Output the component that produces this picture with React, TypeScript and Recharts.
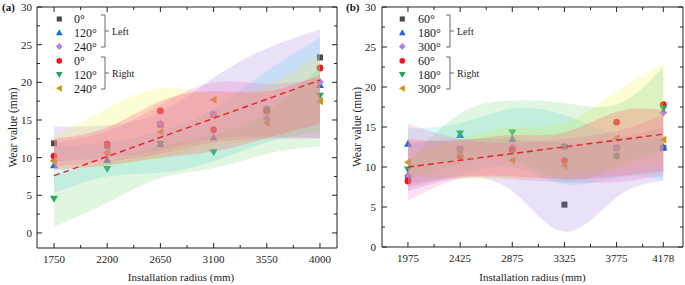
import React from 'react';
import { ComposedChart, XAxis, YAxis, Scatter, Area, Line } from 'recharts';

// ---------- Panel (a) data ----------
const radiusA = [1750, 2200, 2650, 3100, 3550, 4000];
const aLeft0 = [11.9, 11.6, 14.4, 15.7, 16.3, 23.3];
const aLeft120 = [9.0, 9.7, 11.8, 12.7, 16.5, 19.65];
const aLeft240 = [9.6, 10.6, 14.5, 15.8, 15.2, 20.05];
const aRight0 = [10.2, 11.8, 16.2, 13.7, 16.2, 21.9];
const aRight120 = [4.55, 8.5, 11.8, 10.7, 16.4, 18.2];
const aRight240 = [9.6, 10.7, 13.4, 17.7, 14.6, 17.5];
const aFit = [7.6, 20.3];
const aLavHi = [14.1, 14.3, 16, 20.6, 24.5, 27];
const aLavLo = [9.5, 10, 11, 12.5, 12.8, 12.6];
const aCyanHi = [11.5, 12, 13.5, 16.5, 21.5, 25.9];
const aCyanLo = [5.3, 7.5, 8, 9.5, 12, 13.5];
const aYelHi = [12.8, 16.5, 19.2, 18.5, 19.5, 23.8];
const aYelLo = [8.5, 9, 10, 11.5, 12.5, 13.5];
const aGrnHi = [7.8, 9.5, 11.5, 13, 16, 22];
const aGrnLo = [0.8, 4, 7.3, 8.6, 10.5, 11.5];
const aMagHi = [12, 13.5, 17, 20, 19.8, 20.5];
const aMagLo = [8.8, 9.5, 10.5, 12, 12.5, 12.5];
const aSalHi = [12.5, 14, 17.5, 18.8, 18.8, 21];
const aSalLo = [8.4, 9, 10, 10.8, 12.6, 14.5];
const aMajor = [1750, 2200, 2650, 3100, 3550, 4000];
const aMinor = [1975, 2425, 2875, 3325, 3775];
const aLegend = ['0°', '120°', '240°', '0°', '120°', '240°'];

// ---------- Panel (b) data ----------
const radiusB = [1975, 2425, 2875, 3325, 3775, 4178];
const bLeft60 = [8.7, 12.2, 12.2, 5.3, 12.4, 12.4];
const bLeft180 = [12.9, 14.0, 13.5, 12.6, 11.4, 12.5];
const bLeft300 = [8.9, 12.2, 12.4, 10.8, 12.4, 16.8];
const bRight60 = [8.25, 11.3, 12.2, 10.8, 15.6, 17.8];
const bRight180 = [9.7, 14.2, 14.3, 12.5, 11.3, 17.3];
const bRight300 = [10.6, 11.6, 10.8, 10.2, 13.6, 13.4];
const bFit = [10.0, 14.1];
const bLavHi = [13, 13.5, 13.5, 13, 13.5, 15];
const bLavLo = [7, 8.6, 7, 1.9, 6.2, 8.3];
const bCyanHi = [14.8, 15.5, 17.3, 16.5, 14, 13.5];
const bCyanLo = [8, 9, 10, 7.8, 8.7, 8.5];
const bYelHi = [11.5, 13.5, 15, 15.5, 19.4, 22.9];
const bYelLo = [9, 8.6, 8.5, 9, 9.8, 10.5];
const bGrnHi = [10.5, 16.7, 18.3, 18, 17.8, 22.5];
const bGrnLo = [8.5, 10.5, 11, 8.3, 10, 12];
const bMagHi = [15.4, 13.5, 13, 13.5, 14.5, 16.5];
const bMagLo = [5.8, 8.5, 8.5, 8.1, 8.1, 9];
const bSalHi = [13.5, 13.3, 14, 14.3, 16.9, 17.1];
const bSalLo = [7.5, 8.8, 8.8, 8.5, 8.8, 9.5];
const bMajor = [1975, 2425, 2875, 3325, 3775, 4178];
const bMinor = [2200, 2650, 3100, 3550, 4000];
const bLegend = ['60°', '180°', '300°', '60°', '180°', '300°'];

const yTicks = [0, 2.5, 5, 7.5, 10, 12.5, 15, 17.5, 20, 22.5, 25, 27.5, 30];
const yMajor = [0, 5, 10, 15, 20, 25, 30];

// ---------- styles ----------
const SERIF = 'Liberation Serif, Times New Roman, DejaVu Serif, serif';
const AX = '#222';
const markerKinds = ['square', 'up', 'diamond', 'circle', 'down', 'left'];
const markerColors = ['#4a4a4a', '#1f6ae0', '#b57ee8', '#f5141e', '#24a35f', '#cc9a06'];
// band order: lavender, cyan, yellow, green, magenta, salmon (salmon on top)
const bandColors = ['#a070e0', '#40d0f0', '#f0f040', '#70d870', '#f050b0', '#ff6a74'];
const bandOpacity = [0.22, 0.2, 0.22, 0.22, 0.18, 0.3];

function Marker({ kind, cx, cy, color, s = 1 }: any) {
  if (cx == null || cy == null) return null;
  const k = 4 * s;
  switch (kind) {
    case 'square':
      return <rect x={cx - 3 * s} y={cy - 3 * s} width={6 * s} height={6 * s} fill={color} />;
    case 'circle':
      return <circle cx={cx} cy={cy} r={3.4 * s} fill={color} />;
    case 'up':
      return <polygon points={`${cx},${cy - k} ${cx + k},${cy + 3 * s} ${cx - k},${cy + 3 * s}`} fill={color} />;
    case 'down':
      return <polygon points={`${cx},${cy + k} ${cx + k},${cy - 3 * s} ${cx - k},${cy - 3 * s}`} fill={color} />;
    case 'diamond':
      return <polygon points={`${cx},${cy - k} ${cx + k},${cy} ${cx},${cy + k} ${cx - k},${cy}`} fill={color} />;
    case 'left':
      return <polygon points={`${cx - k},${cy} ${cx + 3 * s},${cy - k} ${cx + 3 * s},${cy + k}`} fill={color} />;
  }
  return null;
}

function makeXTick(majors: number[], dir: 1 | -1, showLabel: boolean) {
  return (p: any) => {
    const v = p.payload.value;
    const major = majors.includes(v);
    const len = major ? 5 : 3;
    return (
      <g>
        <line x1={p.x} x2={p.x} y1={p.y} y2={p.y + dir * len} stroke={AX} strokeWidth={1} />
        {showLabel && major && (
          <text x={p.x} y={p.y + 15} textAnchor="middle" fontSize={11} style={{ fontFamily: SERIF }} fill="#222">
            {v}
          </text>
        )}
      </g>
    );
  };
}

function makeYTick(dir: 1 | -1, showLabel: boolean, gap: number) {
  return (p: any) => {
    const v = p.payload.value;
    const major = yMajor.includes(v);
    const len = major ? 5 : 3;
    return (
      <g>
        <line x1={p.x} x2={p.x + dir * len} y1={p.y} y2={p.y} stroke={AX} strokeWidth={1} />
        {showLabel && major && (
          <text x={p.x - gap} y={p.y + 4} textAnchor="end" fontSize={11} style={{ fontFamily: SERIF }} fill="#222">
            {v}
          </text>
        )}
      </g>
    );
  };
}

type PanelCfg = {
  xs: number[];
  series: number[][];
  his: number[][];
  los: number[][];
  fit: number[];
  xDomain: [number, number];
  yDomain: [number, number];
  majors: number[];
  minors: number[];
  left: number;
  width: number;
  yAxisWidth: number;
  rightAxisWidth: number;
  xAxisHeight: number;
  yGap: number;
};

function axes(c: PanelCfg, xt: number[], show: boolean) {
  return [
    <XAxis
      key="xb"
      xAxisId="b"
      type="number"
      dataKey="x"
      domain={c.xDomain}
      allowDataOverflow
      ticks={xt}
      interval={0}
      tickSize={0}
      tickMargin={0}
      tickLine={false}
      height={c.xAxisHeight}
      axisLine={show ? { stroke: AX } : false}
      tick={show ? makeXTick(c.majors, -1, true) : false}
    />,
    <XAxis
      key="xt"
      xAxisId="t"
      orientation="top"
      type="number"
      dataKey="x"
      domain={c.xDomain}
      allowDataOverflow
      ticks={xt}
      interval={0}
      tickSize={0}
      tickMargin={0}
      tickLine={false}
      height={1}
      axisLine={show ? { stroke: AX } : false}
      tick={show ? makeXTick(c.majors, 1, false) : false}
    />,
    <YAxis
      key="yl"
      yAxisId="l"
      type="number"
      domain={c.yDomain}
      allowDataOverflow
      ticks={yTicks}
      interval={0}
      tickSize={0}
      tickMargin={0}
      tickLine={false}
      width={c.yAxisWidth}
      axisLine={show ? { stroke: AX } : false}
      tick={show ? makeYTick(1, true, c.yGap) : false}
    />,
    <YAxis
      key="yr"
      yAxisId="r"
      orientation="right"
      type="number"
      domain={c.yDomain}
      allowDataOverflow
      ticks={yTicks}
      interval={0}
      tickSize={0}
      tickMargin={0}
      tickLine={false}
      width={c.rightAxisWidth}
      axisLine={show ? { stroke: AX } : false}
      tick={show ? makeYTick(-1, false, 0) : false}
    />,
  ];
}

function Panel(c: PanelCfg) {
  const rows = c.xs.map((x, i) => {
    const r: any = { x };
    c.series.forEach((s, j) => (r['s' + j] = s[i]));
    c.his.forEach((h, j) => (r['b' + j] = [c.los[j][i], h[i]]));
    r.fit = i === 0 ? c.fit[0] : i === c.xs.length - 1 ? c.fit[1] : null;
    return r;
  });
  const xt = [...c.majors, ...c.minors].sort((a, b) => a - b);
  const margin = { top: 6, right: 0, bottom: 0, left: 0 };
  return (
    <>
      {/* bottom layer: markers */}
      <div style={{ position: 'absolute', left: c.left, top: 0 }}>
        <ComposedChart width={c.width} height={285} data={rows} margin={margin}>
          {axes(c, xt, false)}
          {c.series.map((_, j) => (
            <Scatter
              key={'s' + j}
              xAxisId="b"
              yAxisId="l"
              dataKey={'s' + j}
              isAnimationActive={false}
              shape={(p: any) => <Marker kind={markerKinds[j]} cx={p.cx} cy={p.cy} color={markerColors[j]} />}
            />
          ))}
        </ComposedChart>
      </div>
      {/* top layer: confidence bands, fit line and axes */}
      <div style={{ position: 'absolute', left: c.left, top: 0 }}>
        <ComposedChart width={c.width} height={285} data={rows} margin={margin}>
          {axes(c, xt, true)}
          {c.his.map((_, j) => (
            <Area
              key={'b' + j}
              xAxisId="b"
              yAxisId="l"
              dataKey={'b' + j}
              type="natural"
              stroke="none"
              fill={bandColors[j]}
              fillOpacity={bandOpacity[j]}
              dot={false}
              activeDot={false}
              isAnimationActive={false}
            />
          ))}
          <Line
            xAxisId="b"
            yAxisId="l"
            dataKey="fit"
            connectNulls
            stroke="#e8202a"
            strokeWidth={1.4}
            strokeDasharray="6 4"
            dot={false}
            activeDot={false}
            isAnimationActive={false}
          />
        </ComposedChart>
      </div>
    </>
  );
}

function Legend({ mx, tx, bx, labels }: { mx: number; tx: number; bx: number; labels: string[] }) {
  const rows = [19, 32.7, 46.5, 60.8, 74.5, 88.3];
  return (
    <g>
      {labels.map((l, i) => (
        <g key={i}>
          <Marker kind={markerKinds[i]} cx={mx} cy={rows[i]} color={markerColors[i]} s={0.85} />
          <text x={tx} y={rows[i] + 4.3} fontSize={12} style={{ fontFamily: SERIF }} fill="#222">
            {l}
          </text>
        </g>
      ))}
      {[
        [15, 47, 'Left'],
        [57, 89, 'Right'],
      ].map(([a, b, t]: any, i) => (
        <g key={'br' + i}>
          <polyline points={`${bx - 4},${a} ${bx},${a} ${bx},${b} ${bx - 4},${b}`} stroke="#444" strokeWidth={0.8} fill="none" />
          <line x1={bx} x2={bx + 4} y1={(a + b) / 2} y2={(a + b) / 2} stroke="#444" strokeWidth={0.8} />
          <text x={bx + 7} y={(a + b) / 2 + 3.5} fontSize={10} style={{ fontFamily: SERIF }} fill="#222">
            {t}
          </text>
        </g>
      ))}
    </g>
  );
}

export default function App() {
  return (
    <div style={{ position: 'absolute', left: 0, top: 0, width: 685, height: 285, background: '#fff', fontFamily: SERIF }}>
      <Panel
        xs={radiusA}
        series={[aLeft0, aLeft120, aLeft240, aRight0, aRight120, aRight240]}
        his={[aLavHi, aCyanHi, aYelHi, aGrnHi, aMagHi, aSalHi]}
        los={[aLavLo, aCyanLo, aYelLo, aGrnLo, aMagLo, aSalLo]}
        fit={aFit}
        xDomain={[1606, 4144]}
        yDomain={[-2, 30]}
        majors={aMajor}
        minors={aMinor}
        left={0}
        width={342}
        yAxisWidth={37}
        rightAxisWidth={5}
        xAxisHeight={37}
        yGap={5}
      />
      <Panel
        xs={radiusB}
        series={[bLeft60, bLeft180, bLeft300, bRight60, bRight180, bRight300]}
        his={[bLavHi, bCyanHi, bYelHi, bGrnHi, bMagHi, bSalHi]}
        los={[bLavLo, bCyanLo, bYelLo, bGrnLo, bMagLo, bSalLo]}
        fit={bFit}
        xDomain={[1751, 4348]}
        yDomain={[0, 30]}
        majors={bMajor}
        minors={bMinor}
        left={342}
        width={343}
        yAxisWidth={40}
        rightAxisWidth={2}
        xAxisHeight={38}
        yGap={6}
      />
      <svg width={685} height={285} style={{ position: 'absolute', left: 0, top: 0, pointerEvents: 'none', fontFamily: SERIF }}>
        <text x={2} y={11} fontSize={11} fontWeight="bold" style={{ fontFamily: SERIF }} fill="#111">(a)</text>
        <text x={346} y={11} fontSize={11} fontWeight="bold" style={{ fontFamily: SERIF }} fill="#111">(b)</text>
        <text transform="translate(17,127.5) rotate(-90)" textAnchor="middle" fontSize={11.5} style={{ fontFamily: SERIF }} fill="#222">
          Wear value (mm)
        </text>
        <text transform="translate(361,127) rotate(-90)" textAnchor="middle" fontSize={11.5} style={{ fontFamily: SERIF }} fill="#222">
          Wear value (mm)
        </text>
        <text x={181} y={281} textAnchor="middle" fontSize={11} style={{ fontFamily: SERIF }} fill="#222">
          Installation radius (mm)
        </text>
        <text x={532.5} y={281} textAnchor="middle" fontSize={11} style={{ fontFamily: SERIF }} fill="#222">
          Installation radius (mm)
        </text>
        <Legend mx={59.3} tx={74} bx={105} labels={aLegend} />
        <Legend mx={402.3} tx={418} bx={450} labels={bLegend} />
      </svg>
    </div>
  );
}
